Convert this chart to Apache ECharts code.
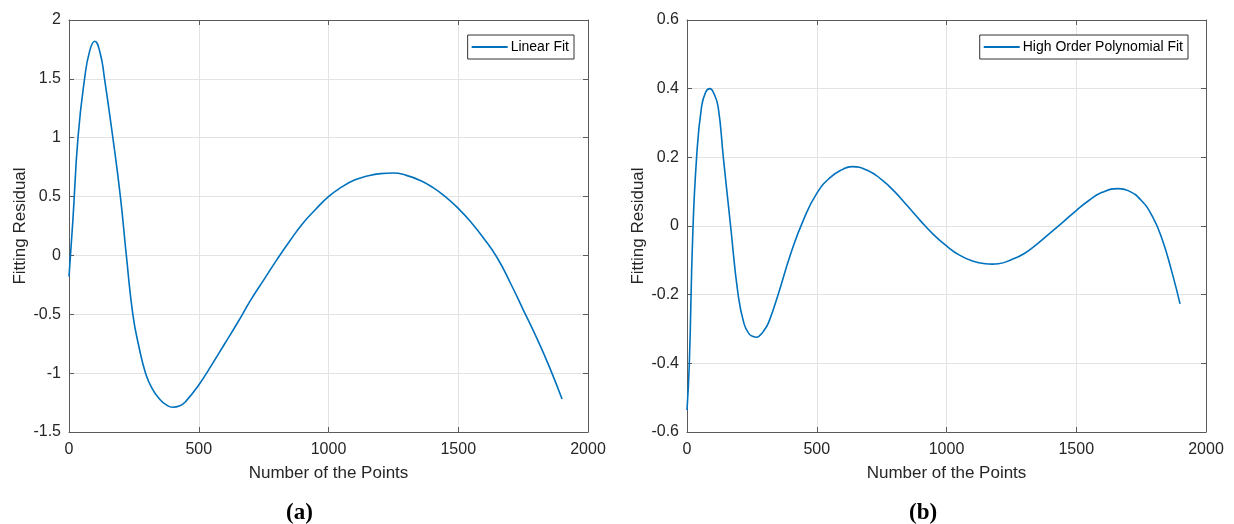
<!DOCTYPE html>
<html>
<head>
<meta charset="utf-8">
<script src="https://cdn.jsdelivr.net/npm/echarts@6/dist/echarts.min.js"></script>
<style>html,body{margin:0;padding:0;background:#fff}#c{width:1234px;height:524px}</style>
</head>
<body>
<div id="c"></div>
<script>
// Panel (a): Linear Fit residual
const xA = [0, 15, 35, 60, 80, 99, 120, 137, 169, 198, 221, 246, 270, 295, 320, 349, 375, 400, 425, 450, 500, 550, 600, 650, 700, 750, 800, 850, 900, 950, 1000, 1050, 1100, 1150, 1200, 1250, 1300, 1350, 1400, 1450, 1500, 1550, 1600, 1650, 1700, 1750, 1800, 1850, 1900];
const yA = [-0.18, 0.30, 1.01, 1.50, 1.74, 1.82, 1.72, 1.50, 1.0, 0.5, 0.0, -0.5, -0.78, -1.0, -1.13, -1.22, -1.27, -1.29, -1.28, -1.24, -1.10, -0.93, -0.75, -0.57, -0.38, -0.21, -0.04, 0.12, 0.27, 0.39, 0.50, 0.58, 0.64, 0.675, 0.695, 0.70, 0.68, 0.64, 0.58, 0.50, 0.40, 0.28, 0.14, -0.02, -0.23, -0.46, -0.69, -0.94, -1.22];
// Panel (b): High Order Polynomial Fit residual
const xB = [0, 9, 22, 37, 56, 72, 88, 104, 120, 140, 168, 197, 220, 240, 255, 268, 282, 296, 315, 351, 400, 450, 500, 550, 600, 636, 700, 750, 800, 850, 900, 950, 1000, 1050, 1100, 1150, 1176, 1200, 1250, 1300, 1350, 1400, 1450, 1500, 1550, 1600, 1662, 1700, 1750, 1794, 1832, 1870, 1900];
const yB = [-0.536, -0.40, -0.03, 0.20, 0.347, 0.39, 0.40, 0.385, 0.347, 0.20, 0.0, -0.20, -0.285, -0.315, -0.322, -0.324, -0.318, -0.305, -0.28, -0.20, -0.08, 0.02, 0.095, 0.14, 0.165, 0.173, 0.16, 0.135, 0.10, 0.058, 0.015, -0.025, -0.058, -0.085, -0.102, -0.11, -0.111, -0.11, -0.098, -0.08, -0.052, -0.02, 0.012, 0.045, 0.075, 0.098, 0.109, 0.103, 0.075, 0.027, -0.041, -0.138, -0.227];
const xTicks = {min: 0, max: 2000, interval: 500};
const yTicksA = {min: -1.5, max: 2, interval: 0.5};
const yTicksB = {min: -0.6, max: 0.6, interval: 0.2};
const seriesNames = ['Linear Fit', 'High Order Polynomial Fit'];
const xName = 'Number of the Points';
const yName = 'Fitting Residual';
const captions = ['(a)', '(b)'];

const chart = echarts.init(document.getElementById('c'));
const axisCol = '#5a5a5a';
const txtCol = '#262626';
const font = 'Liberation Sans, Arial, sans-serif';
const fmt = v => String(Math.round(v * 1000) / 1000);
function mainX(gi) {
  return {gridIndex: gi, type: 'value', min: xTicks.min, max: xTicks.max, interval: xTicks.interval,
    name: xName, nameLocation: 'middle', nameGap: 33,
    nameTextStyle: {color: txtCol, fontSize: 17, fontFamily: font},
    axisLine: {onZero: false, lineStyle: {color: axisCol, width: 1}},
    axisTick: {inside: true, length: 5, lineStyle: {color: axisCol}},
    axisLabel: {color: txtCol, fontSize: 16, fontFamily: font, margin: 10, formatter: fmt},
    splitLine: {show: true, lineStyle: {color: '#e3e3e3', width: 1}}};
}
function topX(gi) {
  return {gridIndex: gi, type: 'value', position: 'top', min: xTicks.min, max: xTicks.max, interval: xTicks.interval,
    axisLine: {onZero: false, lineStyle: {color: axisCol, width: 1}},
    axisTick: {inside: true, length: 5, lineStyle: {color: axisCol}},
    axisLabel: {show: false}, splitLine: {show: false}};
}
function mainY(gi, t) {
  return {gridIndex: gi, type: 'value', min: t.min, max: t.max, interval: t.interval,
    name: yName, nameLocation: 'middle', nameGap: 40,
    nameTextStyle: {color: txtCol, fontSize: 17, fontFamily: font},
    axisLine: {show: true, onZero: false, lineStyle: {color: axisCol, width: 1}},
    axisTick: {show: true, inside: true, length: 5, lineStyle: {color: axisCol}},
    axisLabel: {color: txtCol, fontSize: 16, fontFamily: font, margin: 8, formatter: fmt},
    splitLine: {show: true, lineStyle: {color: '#e3e3e3', width: 1}}};
}
function rightY(gi, t) {
  return {gridIndex: gi, type: 'value', position: 'right', min: t.min, max: t.max, interval: t.interval,
    axisLine: {show: true, onZero: false, lineStyle: {color: axisCol, width: 1}},
    axisTick: {show: true, inside: true, length: 5, lineStyle: {color: axisCol}},
    axisLabel: {show: false}, splitLine: {show: false}};
}
const legendCommon = {top: 35, orient: 'horizontal', icon: 'rect', itemWidth: 36, itemHeight: 2, itemGap: 4,
  borderColor: '#333', borderWidth: 1, padding: [5, 5, 5, 4], backgroundColor: '#fff',
  textStyle: {color: '#000', fontSize: 14, fontFamily: font, padding: [0, 0, 0, -2]}};
chart.setOption({
  animation: false,
  grid: [
    {left: 69, top: 20, width: 519, height: 412},
    {left: 687, top: 20, width: 519, height: 412}
  ],
  xAxis: [mainX(0), topX(0), mainX(1), topX(1)],
  yAxis: [mainY(0, yTicksA), rightY(0, yTicksA), mainY(1, yTicksB), rightY(1, yTicksB)],
  legend: [
    Object.assign({}, legendCommon, {data: [seriesNames[0]], right: 660}),
    Object.assign({}, legendCommon, {data: [seriesNames[1]], right: 46})
  ],
  series: [
    {name: seriesNames[0], type: 'line', xAxisIndex: 0, yAxisIndex: 0, smooth: 0.5, showSymbol: false,
      lineStyle: {color: '#0072BD', width: 1.6}, itemStyle: {color: '#0072BD'},
      data: xA.map((x, i) => [x, yA[i]])},
    {name: seriesNames[1], type: 'line', xAxisIndex: 2, yAxisIndex: 2, smooth: 0.5, showSymbol: false,
      lineStyle: {color: '#0072BD', width: 1.6}, itemStyle: {color: '#0072BD'},
      data: xB.map((x, i) => [x, yB[i]])}
  ],
  graphic: [
    {type: 'text', left: 286, top: 502, style: {text: captions[0], font: 'bold 23px "Liberation Serif", serif', fill: '#000'}},
    {type: 'text', left: 909, top: 502, style: {text: captions[1], font: 'bold 23px "Liberation Serif", serif', fill: '#000'}}
  ]
});
</script>
</body>
</html>
